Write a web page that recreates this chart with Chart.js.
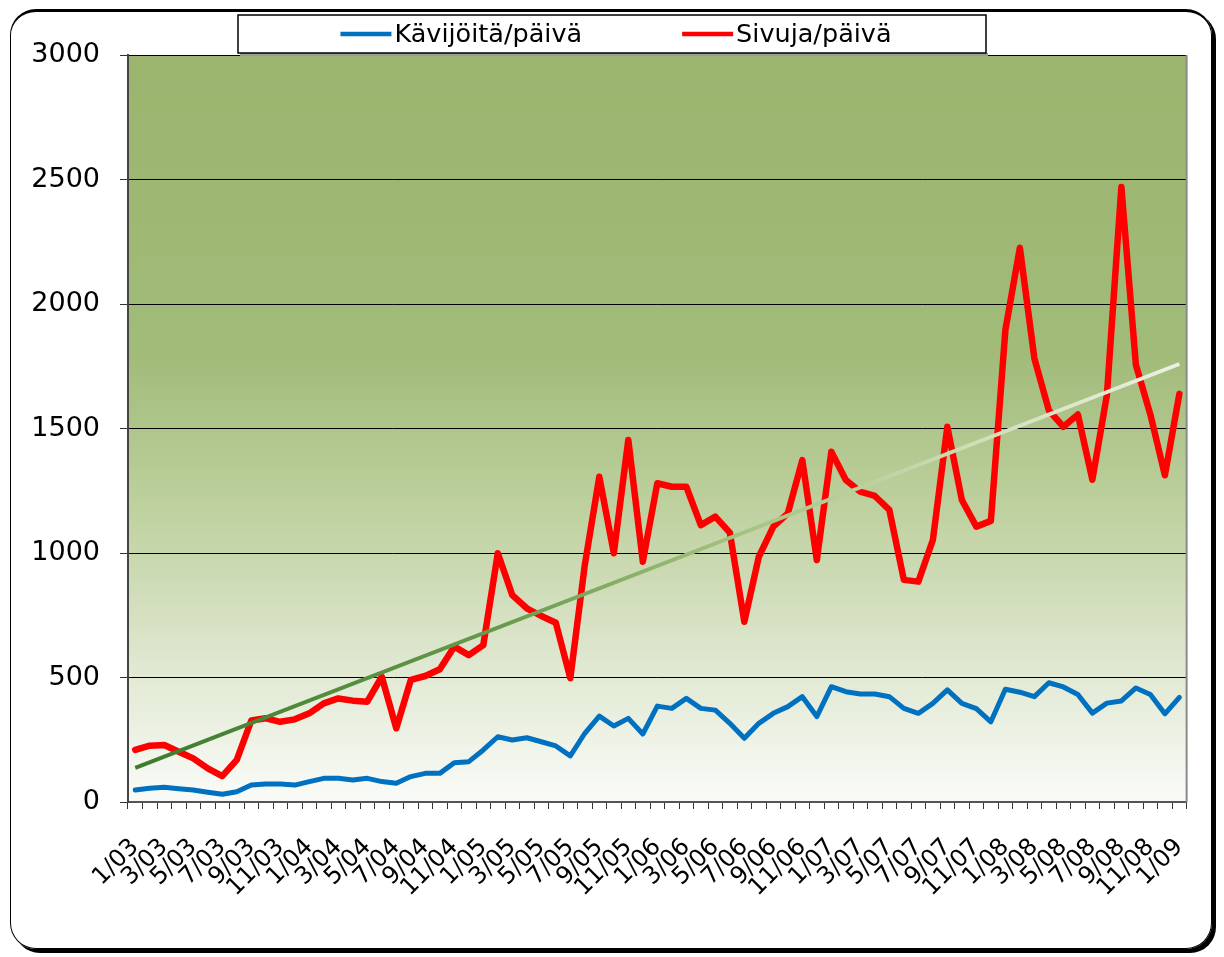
<!DOCTYPE html>
<html lang="fi">
<head>
<meta charset="UTF-8">
<title>Kävijät ja sivut</title>
<script src="https://cdn.jsdelivr.net/npm/chart.js"></script>
<style>
  * { margin: 0; padding: 0; box-sizing: border-box; }
  body { background: #fff; width: 1224px; height: 957px; overflow: hidden; position: relative; }
  .frame { position: absolute; left: 10px; top: 9px; width: 1202px; height: 940px;
           border: 1.5px solid #000; border-top-width: 3px; border-radius: 26px;
           box-shadow: 4px 4px 0 #000; }
  canvas { position: absolute; left: 0; top: 0; }
</style>
</head>
<body>
<div class="frame"></div>
<canvas id="chart" width="1224" height="957"></canvas>
<script>
// months 1/03 ... 1/09
const months = [
  '1/03','2/03','3/03','4/03','5/03','6/03','7/03','8/03','9/03','10/03','11/03','12/03',
  '1/04','2/04','3/04','4/04','5/04','6/04','7/04','8/04','9/04','10/04','11/04','12/04',
  '1/05','2/05','3/05','4/05','5/05','6/05','7/05','8/05','9/05','10/05','11/05','12/05',
  '1/06','2/06','3/06','4/06','5/06','6/06','7/06','8/06','9/06','10/06','11/06','12/06',
  '1/07','2/07','3/07','4/07','5/07','6/07','7/07','8/07','9/07','10/07','11/07','12/07',
  '1/08','2/08','3/08','4/08','5/08','6/08','7/08','8/08','9/08','10/08','11/08','12/08',
  '1/09'
];

const visitors = [
  48, 55, 59, 53, 48, 39, 31, 41, 68, 72, 72, 68,
  82, 95, 95, 88, 95, 82, 75, 102, 115, 115, 158, 162,
  209, 262, 249, 258, 242, 225, 185, 276, 345, 305, 336, 273,
  385, 376, 416, 376, 369, 316, 256, 316, 356, 383, 423, 343,
  463, 443, 434, 434, 423, 376, 356, 396, 450, 396, 375, 322,
  453, 441, 423, 479, 462, 432, 357, 397, 406, 458, 432, 354,
  420
];

const pages = [
  209, 226, 229, 202, 175, 135, 104, 169, 327, 336, 322, 332,
  356, 396, 416, 407, 403, 503, 296, 490, 506, 533, 624, 590,
  630, 999, 831, 778, 747, 720, 497, 952, 1306, 999, 1454, 965,
  1280, 1266, 1266, 1112, 1146, 1082, 724, 985, 1106, 1159, 1373, 972,
  1407, 1293, 1246, 1229, 1173, 892, 885, 1052, 1507, 1213, 1106, 1129,
  1895, 2226, 1782, 1573, 1507, 1556, 1294, 1634, 2470, 1756, 1556, 1312,
  1639
];

// trend line of pages, first and last value
const trendEnds = [137, 1759];

const yTicks = [0, 500, 1000, 1500, 2000, 2500, 3000];

const FONT = 'DejaVu Sans';

const trendData = months.map((m, i) =>
  i === 0 ? trendEnds[0] : (i === months.length - 1 ? trendEnds[1] : null));

function trendGradient(context) {
  const chart = context.chart;
  const a = chart.chartArea;
  if (!a) return '#6a9a4c';
  const g = chart.ctx.createLinearGradient(a.left, 0, a.right, 0);
  g.addColorStop(0, '#3b7b2b');
  g.addColorStop(0.35, '#679a4c');
  g.addColorStop(0.55, '#9dbf7b');
  g.addColorStop(0.8, '#cfdeb8');
  g.addColorStop(1, '#edf1e4');
  return g;
}

const backgroundAndLegend = {
  id: 'backgroundAndLegend',
  beforeDraw(chart) {
    const { ctx, chartArea: a } = chart;
    const g = ctx.createLinearGradient(0, a.top, 0, a.bottom);
    g.addColorStop(0, '#9bb56f');
    g.addColorStop(0.4, '#a1bb79');
    g.addColorStop(0.6, '#bdd09d');
    g.addColorStop(0.8, '#dde6cd');
    g.addColorStop(1, '#fafbf8');
    ctx.save();
    ctx.fillStyle = g;
    ctx.fillRect(a.left, a.top, a.right - a.left, a.bottom - a.top);
    ctx.restore();
  },
  afterDraw(chart) {
    const { ctx, chartArea: a } = chart;
    ctx.save();
    // right edge of plot area
    ctx.strokeStyle = '#8a8a8a';
    ctx.lineWidth = 2;
    ctx.beginPath();
    ctx.moveTo(a.right, a.top);
    ctx.lineTo(a.right, a.bottom);
    ctx.stroke();

    // legend box
    const boxL = 238, boxT = 15, boxR = 986, boxB = 53;
    ctx.fillStyle = '#9a9a9a';
    ctx.fillRect(boxL + 2, boxB, boxR - boxL, 3);
    ctx.fillStyle = '#fff';
    ctx.fillRect(boxL, boxT, boxR - boxL, boxB - boxT);
    ctx.strokeStyle = '#000';
    ctx.lineWidth = 1.5;
    ctx.strokeRect(boxL, boxT, boxR - boxL, boxB - boxT);

    // legend entries in the order visitors, pages
    const items = chart.data.datasets.filter(d => !d.noLegend).reverse();
    ctx.font = '25.5px "' + FONT + '"';
    ctx.textBaseline = 'middle';
    const lineLen = 51, gap = 3, itemGap = 100;
    const widths = items.map(d => ctx.measureText(d.label).width);
    let total = widths.reduce((s, w) => s + lineLen + gap + w, 0) + itemGap * (items.length - 1);
    let x = 616 - total / 2;
    const y = 34;
    items.forEach((d, i) => {
      ctx.strokeStyle = d.borderColor;
      ctx.lineWidth = 4.5;
      ctx.beginPath();
      ctx.moveTo(x, y);
      ctx.lineTo(x + lineLen, y);
      ctx.stroke();
      ctx.fillStyle = '#000';
      ctx.fillText(d.label, x + lineLen + gap, y + 1);
      x += lineLen + gap + widths[i] + itemGap;
    });
    ctx.restore();
  }
};

new Chart(document.getElementById('chart'), {
  type: 'line',
  data: {
    labels: months,
    datasets: [
      {
        label: 'Trendi',
        data: trendData,
        noLegend: true,
        spanGaps: true,
        borderColor: trendGradient,
        borderWidth: 4,
        pointRadius: 0,
        order: 0
      },
      {
        label: 'Sivuja/päivä',
        data: pages,
        borderColor: '#ff0000',
        borderWidth: 6.5,
        borderJoinStyle: 'round',
        borderCapStyle: 'round',
        pointRadius: 0,
        tension: 0,
        order: 1
      },
      {
        label: 'Kävijöitä/päivä',
        data: visitors,
        borderColor: '#0070c0',
        borderWidth: 5,
        borderJoinStyle: 'round',
        borderCapStyle: 'round',
        pointRadius: 0,
        tension: 0,
        order: 2
      }
    ]
  },
  options: {
    responsive: false,
    animation: false,
    layout: { padding: { top: 55, right: 37, left: 0, bottom: 0 } },
    plugins: {
      legend: { display: false },
      tooltip: { enabled: false }
    },
    scales: {
      x: {
        offset: true,
        grid: { offset: true, drawOnChartArea: false, tickLength: 7, color: '#333', lineWidth: 1 },
        border: { color: '#555', width: 2 },
        ticks: {
          autoSkip: false,
          minRotation: 45,
          maxRotation: 45,
          padding: 24,
          color: '#000',
          font: { family: FONT, size: 24 },
          callback(v, i) { return i % 2 === 0 ? this.getLabelForValue(v) : ''; }
        },
        afterFit(scale) { scale.height = 155; }
      },
      y: {
        min: yTicks[0],
        max: yTicks[yTicks.length - 1],
        afterBuildTicks(scale) { scale.ticks = yTicks.map(v => ({ value: v })); },
        grid: { color: '#000', lineWidth: 1, tickLength: 8, tickColor: '#333' },
        border: { color: '#444', width: 2 },
        ticks: {
          padding: 20,
          color: '#000',
          font: { family: FONT, size: 27 },
          callback: v => String(v)
        },
        afterFit(scale) { scale.width = 128; }
      }
    }
  },
  plugins: [backgroundAndLegend]
});
</script>
</body>
</html>
